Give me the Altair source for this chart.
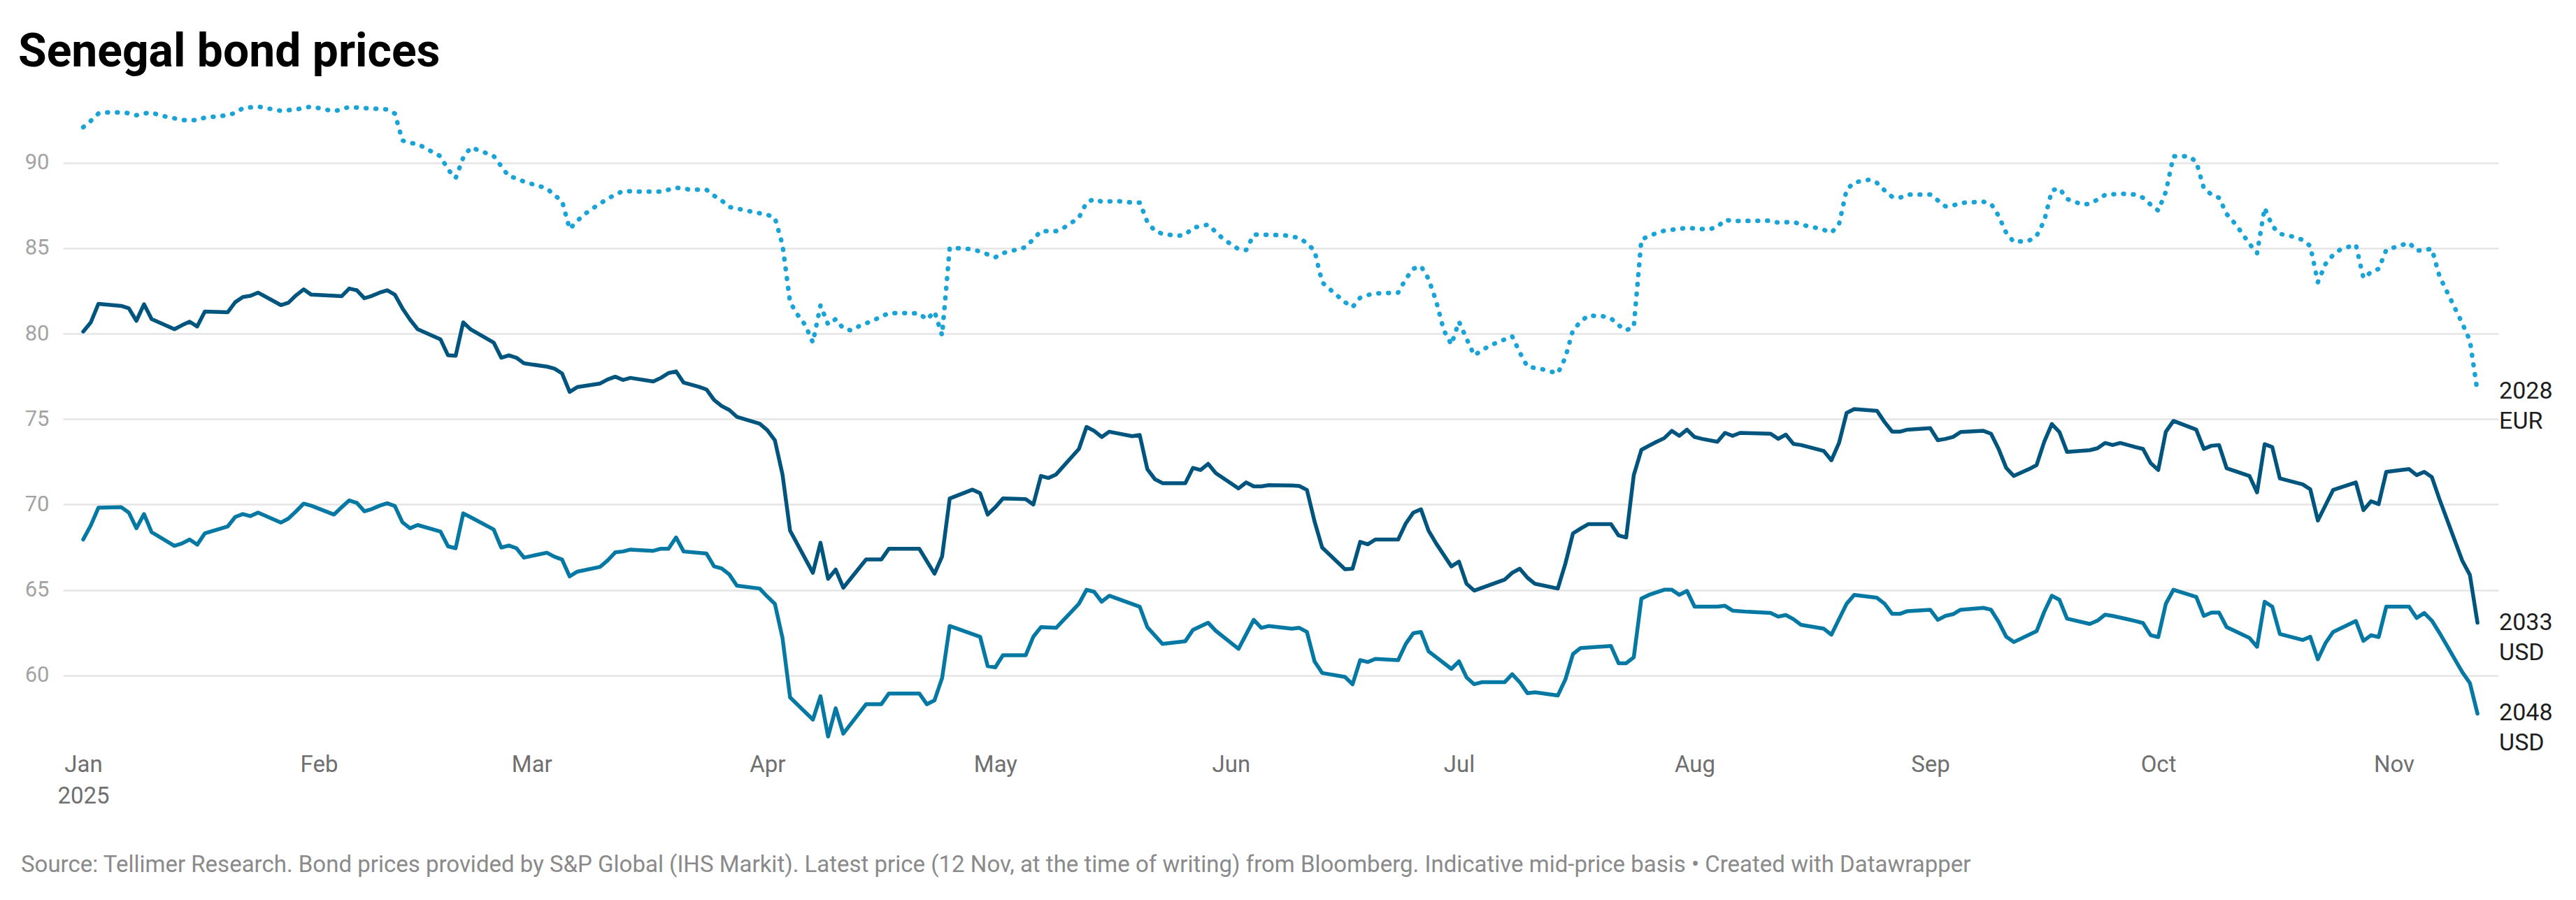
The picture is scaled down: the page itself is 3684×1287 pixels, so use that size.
import altair as alt
import pandas as pd

# ---- data: (days since 1 Jan 2025, price) ----
eur28 = [(0, 92.08), (1, 92.45), (2, 92.88), (3, 92.95), (5, 92.95), (6, 92.9), (7, 92.78), (8, 92.88),
         (9, 92.95), (10, 92.78), (12, 92.6), (13, 92.5), (15, 92.5), (16, 92.64), (19, 92.78), (20, 92.92),
         (21, 93.19), (23, 93.29), (26, 93.04), (28, 93.12), (30, 93.29), (33, 93.01), (35, 93.26), (37, 93.2),
         (40, 93.12), (41, 92.88), (42, 91.3), (43, 91.16), (44, 91.1), (47, 90.38), (48, 89.6), (49, 89.1),
         (50, 90.3), (51, 90.9), (54, 90.4), (55, 89.8), (56, 89.2), (57, 89.1), (58, 88.89), (61, 88.5),
         (62, 88.1), (63, 87.76), (64, 86.12), (65, 86.6), (66, 87.0), (67, 87.32), (69, 87.9), (71, 88.35),
         (73, 88.31), (76, 88.31), (77, 88.42), (78, 88.54), (80, 88.42), (82, 88.42), (83, 88.07), (84, 87.79),
         (85, 87.41), (86, 87.32), (88, 87.13), (90, 86.96), (91, 86.78), (92, 85.2), (93, 81.84), (94, 81.1),
         (95, 80.5), (96, 79.48), (97, 81.65), (98, 80.54), (99, 80.85), (100, 80.3), (101, 80.19), (102, 80.42),
         (104, 80.78), (105, 81.0), (106, 81.2), (108, 81.2), (110, 81.18), (111, 80.82), (112, 81.29),
         (113, 79.9), (114, 85.01), (115, 85.0), (117, 84.94), (118, 84.8), (120, 84.47), (121, 84.71),
         (123, 84.94), (124, 85.06), (126, 86.0), (128, 86.0), (129, 86.19), (131, 86.78), (132, 87.67),
         (133, 87.88), (134, 87.72), (136, 87.76), (138, 87.67), (139, 87.67), (140, 86.54), (141, 86.0),
         (142, 85.84), (144, 85.72), (145, 85.79), (146, 86.19), (148, 86.38), (149, 85.95), (150, 85.53),
         (152, 84.94), (153, 84.89), (154, 85.79), (155, 85.79), (158, 85.76), (160, 85.6), (161, 85.29),
         (162, 84.85), (163, 83.0), (164, 82.6), (166, 81.84), (167, 81.55), (168, 82.1), (169, 82.26),
         (170, 82.35), (173, 82.4), (174, 83.2), (175, 83.8), (176, 83.95), (177, 83.2), (178, 81.9),
         (179, 80.2), (180, 79.36), (181, 80.7), (182, 79.7), (183, 78.73), (185, 79.29), (188, 79.84),
         (189, 78.9), (190, 78.07), (192, 77.91), (194, 77.67), (195, 78.6), (196, 80.2), (197, 80.7),
         (198, 81.06), (200, 81.01), (201, 80.89), (202, 80.49), (203, 80.19), (204, 80.4), (205, 85.5),
         (206, 85.72), (207, 85.88), (208, 86.02), (211, 86.19), (213, 86.12), (214, 86.12), (215, 86.24),
         (216, 86.66), (217, 86.59), (222, 86.61), (223, 86.49), (225, 86.54), (226, 86.38), (228, 86.19),
         (229, 86.07), (230, 85.91), (231, 86.4), (232, 88.42), (233, 88.85), (235, 89.01), (236, 88.82),
         (237, 88.38), (238, 88.0), (239, 87.95), (240, 88.14), (243, 88.14), (244, 87.8), (245, 87.45),
         (246, 87.5), (247, 87.65), (250, 87.72), (251, 87.6), (252, 86.89), (253, 85.9), (254, 85.36),
         (256, 85.44), (257, 85.72), (258, 86.6), (259, 88.38), (260, 88.5), (261, 87.88), (262, 87.72),
         (263, 87.55), (264, 87.6), (265, 87.84), (266, 88.12), (268, 88.19), (270, 88.14), (271, 87.95),
         (272, 87.55), (273, 87.2), (274, 88.3), (275, 90.38), (277, 90.38), (278, 90.07), (279, 88.5),
         (280, 88.14), (281, 87.95), (282, 87.0), (283, 86.49), (284, 85.9), (285, 85.25), (286, 84.71),
         (287, 87.36), (288, 86.3), (289, 85.84), (291, 85.65), (292, 85.48), (293, 85.13), (294, 83.01),
         (295, 84.07), (296, 84.6), (297, 84.94), (299, 85.2), (300, 83.25), (301, 83.6), (302, 83.79),
         (303, 84.9), (306, 85.32), (307, 84.85), (309, 84.96), (310, 83.36), (313, 80.6), (314, 79.6),
         (315, 76.59)]

usd33 = [(0, 80.12), (1, 80.66), (2, 81.74), (5, 81.62), (6, 81.48), (7, 80.75), (8, 81.72), (9, 80.85),
         (12, 80.26), (13, 80.49), (14, 80.7), (15, 80.42), (16, 81.29), (19, 81.25), (20, 81.84), (21, 82.14),
         (22, 82.21), (23, 82.4), (26, 81.67), (27, 81.81), (28, 82.24), (29, 82.59), (30, 82.28), (34, 82.19),
         (35, 82.64), (36, 82.54), (37, 82.07), (38, 82.21), (39, 82.4), (40, 82.54), (41, 82.28), (42, 81.48),
         (43, 80.82), (44, 80.26), (47, 79.67), (48, 78.73), (49, 78.7), (50, 80.66), (51, 80.24), (54, 79.48),
         (55, 78.59), (56, 78.73), (57, 78.59), (58, 78.26), (61, 78.07), (62, 77.95), (63, 77.67), (64, 76.59),
         (65, 76.87), (68, 77.08), (69, 77.32), (70, 77.48), (71, 77.29), (72, 77.41), (75, 77.2), (76, 77.41),
         (77, 77.69), (78, 77.79), (79, 77.13), (81, 76.89), (82, 76.73), (83, 76.12), (84, 75.76), (85, 75.53),
         (86, 75.13), (89, 74.73), (90, 74.35), (91, 73.76), (92, 71.76), (93, 68.47), (96, 66.0), (97, 67.76),
         (98, 65.65), (99, 66.19), (100, 65.13), (103, 66.78), (105, 66.78), (106, 67.41), (110, 67.41),
         (112, 65.95), (113, 66.96), (114, 70.35), (117, 70.87), (118, 70.66), (119, 69.41), (120, 69.84),
         (121, 70.35), (124, 70.31), (125, 70.0), (126, 71.67), (127, 71.55), (128, 71.76), (131, 73.25),
         (132, 74.54), (133, 74.31), (134, 73.95), (135, 74.26), (138, 74.0), (139, 74.07), (140, 72.07),
         (141, 71.48), (142, 71.25), (145, 71.25), (146, 72.14), (147, 72.02), (148, 72.38), (149, 71.84),
         (152, 70.94), (153, 71.29), (154, 71.06), (155, 71.06), (156, 71.13), (159, 71.11), (160, 71.08),
         (161, 70.85), (162, 69.01), (163, 67.48), (166, 66.21), (167, 66.24), (168, 67.81), (169, 67.67),
         (170, 67.95), (173, 67.95), (174, 68.89), (175, 69.53), (176, 69.72), (177, 68.47), (178, 67.72),
         (180, 66.38), (181, 66.66), (182, 65.36), (183, 64.96), (187, 65.6), (188, 66.0), (189, 66.24),
         (190, 65.72), (191, 65.36), (194, 65.08), (195, 66.54), (196, 68.31), (197, 68.59), (198, 68.85),
         (201, 68.85), (202, 68.19), (203, 68.07), (204, 71.72), (205, 73.2), (206, 73.44), (207, 73.67),
         (208, 73.88), (209, 74.31), (210, 74.02), (211, 74.38), (212, 73.95), (213, 73.84), (215, 73.67),
         (216, 74.19), (217, 74.02), (218, 74.19), (222, 74.14), (223, 73.84), (224, 74.09), (225, 73.55),
         (226, 73.48), (229, 73.13), (230, 72.59), (231, 73.6), (232, 75.36), (233, 75.58), (236, 75.48),
         (237, 74.82), (238, 74.26), (239, 74.26), (240, 74.38), (243, 74.47), (244, 73.76), (245, 73.84),
         (246, 73.95), (247, 74.24), (250, 74.31), (251, 74.14), (252, 73.25), (253, 72.14), (254, 71.67),
         (256, 72.07), (257, 72.31), (258, 73.67), (259, 74.71), (260, 74.24), (261, 73.08), (264, 73.18),
         (265, 73.29), (266, 73.6), (267, 73.48), (268, 73.6), (270, 73.36), (271, 73.25), (272, 72.42),
         (273, 72.02), (274, 74.26), (275, 74.89), (278, 74.38), (279, 73.25), (280, 73.44), (281, 73.48),
         (282, 72.12), (285, 71.67), (286, 70.71), (287, 73.53), (288, 73.36), (289, 71.53), (292, 71.18),
         (293, 70.89), (294, 69.06), (296, 70.85), (299, 71.29), (300, 69.67), (301, 70.19), (302, 70.02),
         (303, 71.91), (306, 72.07), (307, 71.72), (308, 71.91), (309, 71.6), (310, 70.31), (313, 66.71),
         (314, 65.88), (315, 63.08)]

usd48 = [(0, 67.95), (1, 68.78), (2, 69.81), (5, 69.84), (6, 69.53), (7, 68.61), (8, 69.44), (9, 68.38),
         (12, 67.58), (13, 67.72), (14, 67.95), (15, 67.65), (16, 68.31), (19, 68.71), (20, 69.27), (21, 69.44),
         (22, 69.32), (23, 69.53), (26, 68.94), (27, 69.18), (28, 69.6), (29, 70.05), (30, 69.93), (33, 69.41),
         (34, 69.84), (35, 70.24), (36, 70.09), (37, 69.6), (38, 69.74), (39, 69.93), (40, 70.07), (41, 69.91),
         (42, 68.96), (43, 68.61), (44, 68.8), (47, 68.42), (48, 67.55), (49, 67.44), (50, 69.48), (51, 69.25),
         (54, 68.54), (55, 67.48), (56, 67.6), (57, 67.44), (58, 66.89), (61, 67.18), (62, 66.94), (63, 66.78),
         (64, 65.79), (65, 66.07), (68, 66.35), (69, 66.73), (70, 67.2), (71, 67.25), (72, 67.36), (75, 67.29),
         (76, 67.41), (77, 67.41), (78, 68.07), (79, 67.25), (82, 67.13), (83, 66.38), (84, 66.26), (85, 65.91),
         (86, 65.25), (89, 65.08), (90, 64.61), (91, 64.19), (92, 62.19), (93, 58.71), (96, 57.41), (97, 58.78),
         (98, 56.42), (99, 58.07), (100, 56.59), (103, 58.31), (105, 58.31), (106, 58.94), (110, 58.94),
         (111, 58.31), (112, 58.54), (113, 59.84), (114, 62.89), (118, 62.26), (119, 60.54), (120, 60.47),
         (121, 61.18), (124, 61.18), (125, 62.26), (126, 62.82), (128, 62.78), (131, 64.19), (132, 65.01),
         (133, 64.89), (134, 64.31), (135, 64.66), (139, 64.02), (140, 62.82), (142, 61.84), (145, 62.0),
         (146, 62.66), (148, 63.08), (149, 62.61), (152, 61.55), (154, 63.25), (155, 62.78), (156, 62.89),
         (159, 62.73), (160, 62.78), (161, 62.54), (162, 60.82), (163, 60.14), (166, 59.91), (167, 59.48),
         (168, 60.89), (169, 60.78), (170, 60.96), (173, 60.89), (174, 61.84), (175, 62.47), (176, 62.54),
         (177, 61.41), (180, 60.38), (181, 60.82), (182, 59.88), (183, 59.48), (184, 59.6), (187, 59.6),
         (188, 60.07), (189, 59.6), (190, 58.96), (191, 59.01), (194, 58.82), (195, 59.76), (196, 61.25),
         (197, 61.6), (201, 61.72), (202, 60.71), (203, 60.71), (204, 61.06), (205, 64.49), (206, 64.71),
         (208, 65.01), (209, 65.01), (210, 64.71), (211, 64.94), (212, 64.02), (215, 64.02), (216, 64.07),
         (217, 63.79), (219, 63.72), (222, 63.65), (223, 63.44), (224, 63.53), (225, 63.29), (226, 62.96),
         (229, 62.73), (230, 62.38), (231, 63.29), (232, 64.19), (233, 64.71), (236, 64.54), (237, 64.19),
         (238, 63.6), (239, 63.6), (240, 63.76), (243, 63.84), (244, 63.25), (245, 63.48), (246, 63.58),
         (247, 63.84), (250, 63.95), (251, 63.84), (252, 63.13), (253, 62.26), (254, 61.95), (257, 62.59),
         (258, 63.72), (259, 64.66), (260, 64.42), (261, 63.32), (264, 63.01), (265, 63.2), (266, 63.55),
         (267, 63.48), (270, 63.18), (271, 63.06), (272, 62.35), (273, 62.24), (274, 64.19), (275, 65.01),
         (278, 64.59), (279, 63.48), (280, 63.67), (281, 63.67), (282, 62.82), (285, 62.19), (286, 61.67),
         (287, 64.31), (288, 64.02), (289, 62.42), (292, 62.07), (293, 62.26), (294, 60.94), (295, 61.88),
         (296, 62.54), (299, 63.18), (300, 62.02), (301, 62.35), (302, 62.24), (303, 64.02), (306, 64.02),
         (307, 63.36), (308, 63.65), (309, 63.2), (310, 62.49), (313, 60.19), (314, 59.55), (315, 57.76)]

series_names = ["2028 EUR", "2033 USD", "2048 USD"]
end_labels = ["2028\nEUR", "2033\nUSD", "2048\nUSD"]
series_colors = ["#1aa3d6", "#00557f", "#0579a3"]
y_ticks = [60, 65, 70, 75, 80, 85, 90]

title_text = "Senegal bond prices"
footer_text = ("Source: Tellimer Research. Bond prices provided by S&P Global (IHS Markit). "
               "Latest price (12 Nov, at the time of writing) from Bloomberg. "
               "Indicative mid-price basis \u2022 Created with Datawrapper")

START = pd.Timestamp("2025-01-01")


def to_frame(pairs, name):
    days = [p[0] for p in pairs]
    vals = [p[1] for p in pairs]
    return pd.DataFrame({
        "date": START + pd.to_timedelta(days, unit="D"),
        "price": vals,
        "bond": name,
    })


frames = [to_frame(s, n) for s, n in zip([eur28, usd33, usd48], series_names)]

W = 3483
H = 928.5
FONT = "Roboto"

x_scale = alt.Scale(domain=[alt.DateTime(year=2024, month=12, date=29, hours=8),
                            alt.DateTime(year=2025, month=11, date=14, hours=18)])
y_scale = alt.Scale(domain=[56, 94], nice=False, zero=False)

x_axis = alt.Axis(
    title=None, domain=False, ticks=False, tickSize=0, grid=False,
    values=[alt.DateTime(year=2025, month=m, date=1) for m in range(1, 12)],
    labelExpr="month(datum.value) == 0 ? [timeFormat(datum.value, '%b'), timeFormat(datum.value, '%Y')] : timeFormat(datum.value, '%b')",
    labelFont=FONT, labelFontSize=33, labelColor="#6f6f6f", labelPadding=14,
    labelLineHeight=45, labelAlign="center", labelBaseline="top", labelOverlap=False,
    labelFlush=False,
)
y_axis = alt.Axis(
    title=None, domain=False, ticks=False, tickSize=0, values=y_ticks,
    grid=True, gridColor="#e5e5e5", gridWidth=2.5,
    labelFont=FONT, labelFontSize=31, labelColor="#a3a3a3", labelPadding=20,
    labelAlign="right", labelBaseline="middle",
)

base_x = alt.X("date:T", scale=x_scale, axis=x_axis)
base_y = alt.Y("price:Q", scale=y_scale, axis=y_axis)

grid_layer = alt.Chart(frames[1]).mark_line(opacity=0).encode(x=base_x, y=base_y)

eur_layer = alt.Chart(frames[0]).mark_line(
    color=series_colors[0], strokeWidth=6.5, strokeDash=[1, 13], strokeCap="round",
    strokeJoin="round"
).encode(x=alt.X("date:T", scale=x_scale), y=alt.Y("price:Q", scale=y_scale))

usd48_layer = alt.Chart(frames[2]).mark_line(
    color=series_colors[2], strokeWidth=5.5, strokeJoin="round", strokeCap="round"
).encode(x=alt.X("date:T", scale=x_scale), y=alt.Y("price:Q", scale=y_scale))

usd33_layer = alt.Chart(frames[1]).mark_line(
    color=series_colors[1], strokeWidth=5.5, strokeJoin="round", strokeCap="round"
).encode(x=alt.X("date:T", scale=x_scale), y=alt.Y("price:Q", scale=y_scale))

last_df = pd.DataFrame({
    "date": [f["date"].iloc[-1] for f in frames],
    "price": [f["price"].iloc[-1] for f in frames],
    "label": end_labels,
})
label_layer = alt.Chart(last_df).mark_text(
    align="left", baseline="middle", dx=31, font=FONT, fontSize=34, lineBreak="\n",
    lineHeight=43, color="#1e1e1e"
).encode(x=alt.X("date:T", scale=x_scale), y=alt.Y("price:Q", scale=y_scale), text="label:N")

footer_layer = alt.Chart(pd.DataFrame({"t": [footer_text]})).mark_text(
    align="left", baseline="middle", font=FONT, fontSize=33, color="#8a8a8a"
).encode(x=alt.value(-60), y=alt.value(H + 173), text="t:N")

chart = alt.layer(
    grid_layer, eur_layer, usd48_layer, usd33_layer, label_layer, footer_layer
).properties(
    width=W, height=H,
    background="#ffffff",
    title=alt.Title(title_text, anchor="start", frame="group", font=FONT, fontSize=66,
                    fontWeight="bold", color="#000000", dx=-64, dy=71, offset=45,
                    baseline="alphabetic"),
    padding={"left": 82, "top": 127, "right": 100, "bottom": 205},
    autosize=alt.AutoSizeParams(type="none"),
).configure_view(strokeWidth=0, strokeOpacity=0)

chart.save("out.html", embed_options={"renderer": "svg", "actions": False})
